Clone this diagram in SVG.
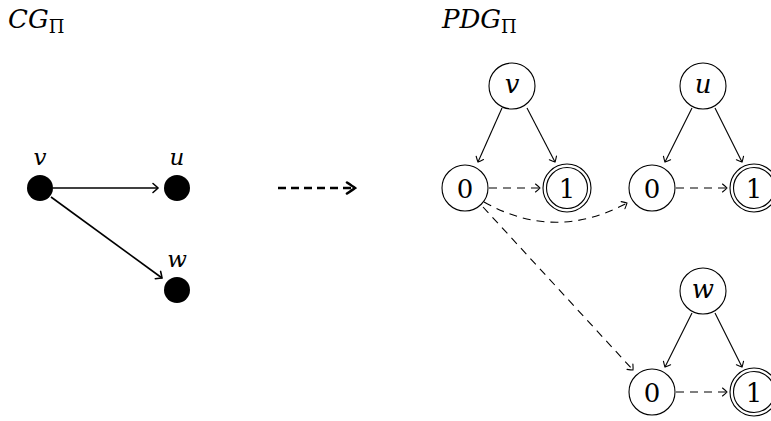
<svg xmlns="http://www.w3.org/2000/svg" width="771" height="421" viewBox="0 0 771 421">
  <style>
    .bg { fill: #ffffff; }
    text { font-family: 'DejaVu Serif', serif; fill: #000; }
    .title { font-style: italic; font-size: 26px; }
    .sub { font-style: normal; font-size: 18px; }
    .lbl { font-style: italic; font-size: 23px; text-anchor: middle; }
    .nl { font-style: italic; font-size: 26px; text-anchor: middle; }
    .num { font-size: 26px; text-anchor: middle; }
    .dot { fill: #000; }
    .ring { fill: #fff; stroke: #000; stroke-width: 1.1; }
    .thick { fill: none; stroke: #000; stroke-width: 1.6; }
    .edge { fill: none; stroke: #000; stroke-width: 1.1; }
    .dash { fill: none; stroke: #000; stroke-width: 1.1; stroke-dasharray: 8 6; }
    .bigdash { fill: none; stroke: #000; stroke-width: 2.6; stroke-dasharray: 8 5; }
  </style>
  <defs>
    <marker id="to" viewBox="-6 -6 8 12" markerWidth="8" markerHeight="12" refX="0" refY="0" orient="auto" markerUnits="userSpaceOnUse">
      <path d="M-4.5,-4 Q-1,-1.2 0,0 Q-1,1.2 -4.5,4" fill="none" stroke="#000" stroke-width="1.1" stroke-linecap="round"/>
    </marker>
    <marker id="toThick" viewBox="-7 -7 9 14" markerWidth="9" markerHeight="14" refX="0" refY="0" orient="auto" markerUnits="userSpaceOnUse">
      <path d="M-5,-4.5 Q-1.2,-1.3 0,0 Q-1.2,1.3 -5,4.5" fill="none" stroke="#000" stroke-width="1.6" stroke-linecap="round"/>
    </marker>
    <marker id="toBig" viewBox="-10 -8 12 16" markerWidth="12" markerHeight="16" refX="0" refY="0" orient="auto" markerUnits="userSpaceOnUse">
      <path d="M-8,-5.5 Q-2,-1.5 0,0 Q-2,1.5 -8,5.5" fill="none" stroke="#000" stroke-width="2.6" stroke-linecap="round"/>
    </marker>
  </defs>

  <rect class="bg" x="0" y="0" width="771" height="421"/>

  <!-- titles -->
  <text class="title" x="8" y="28">CG<tspan class="sub" dy="5">Π</tspan></text>
  <text class="title" x="442" y="28">PDG<tspan class="sub" dy="5">Π</tspan></text>

  <!-- left call graph -->
  <g id="cg-v">
    <circle class="dot" cx="40" cy="188" r="13"/>
    <text class="lbl" x="40" y="165">v</text>
  </g>
  <g id="cg-u">
    <circle class="dot" cx="177" cy="188" r="13"/>
    <text class="lbl" x="177" y="165">u</text>
  </g>
  <g id="cg-w">
    <circle class="dot" cx="177" cy="290" r="13"/>
    <text class="lbl" x="177" y="267">w</text>
  </g>

  <!-- PDG tree for v -->
  <g id="pdg-v">
    <circle class="ring" cx="512" cy="86" r="23"/>
    <text class="nl" x="512" y="93">v</text>
  </g>
  <g id="pdg-v0">
    <circle class="ring" cx="465" cy="188" r="23"/>
    <text class="num" x="465" y="198">0</text>
  </g>
  <g id="pdg-v1">
    <circle class="ring" cx="567" cy="188" r="24"/>
    <circle class="ring" cx="567" cy="188" r="20.5"/>
    <text class="num" x="567" y="198">1</text>
  </g>

  <!-- PDG tree for u -->
  <g id="pdg-u">
    <circle class="ring" cx="703" cy="86" r="23"/>
    <text class="nl" x="703" y="93">u</text>
  </g>
  <g id="pdg-u0">
    <circle class="ring" cx="652" cy="188" r="23"/>
    <text class="num" x="652" y="198">0</text>
  </g>
  <g id="pdg-u1">
    <circle class="ring" cx="754" cy="188" r="24"/>
    <circle class="ring" cx="754" cy="188" r="20.5"/>
    <text class="num" x="754" y="198">1</text>
  </g>

  <!-- PDG tree for w -->
  <g id="pdg-w">
    <circle class="ring" cx="703" cy="291" r="23"/>
    <text class="nl" x="703" y="298">w</text>
  </g>
  <g id="pdg-w0">
    <circle class="ring" cx="652" cy="392" r="23"/>
    <text class="num" x="652" y="402">0</text>
  </g>
  <g id="pdg-w1">
    <circle class="ring" cx="754" cy="392" r="24"/>
    <circle class="ring" cx="754" cy="392" r="20.5"/>
    <text class="num" x="754" y="402">1</text>
  </g>

  <g id="connectors">
    <!-- call graph edges -->
    <line class="thick" x1="53" y1="188" x2="158" y2="188" marker-end="url(#toThick)"/>
    <line class="thick" x1="51" y1="197" x2="162" y2="278" marker-end="url(#toThick)"/>

    <!-- transformation arrow -->
    <line class="bigdash" x1="278" y1="188" x2="355" y2="188" marker-end="url(#toBig)"/>

    <!-- v tree -->
    <line class="edge" x1="502" y1="108" x2="478" y2="162" marker-end="url(#to)"/>
    <line class="edge" x1="527" y1="108" x2="555" y2="162" marker-end="url(#to)"/>
    <line class="dash" x1="489" y1="188" x2="540" y2="188" marker-end="url(#to)"/>

    <!-- u tree -->
    <line class="edge" x1="692" y1="108" x2="665" y2="162" marker-end="url(#to)"/>
    <line class="edge" x1="715" y1="108" x2="742" y2="162" marker-end="url(#to)"/>
    <line class="dash" x1="676" y1="188" x2="727" y2="188" marker-end="url(#to)"/>

    <!-- w tree -->
    <line class="edge" x1="692" y1="313" x2="665" y2="367" marker-end="url(#to)"/>
    <line class="edge" x1="715" y1="313" x2="742" y2="367" marker-end="url(#to)"/>
    <line class="dash" x1="676" y1="392" x2="727" y2="392" marker-end="url(#to)"/>

    <!-- cross-tree call edges -->
    <path class="dash" d="M484,202 Q555,242 627,203" marker-end="url(#to)"/>
    <line class="dash" x1="483" y1="207" x2="633" y2="370" marker-end="url(#to)"/>
  </g>
</svg>
